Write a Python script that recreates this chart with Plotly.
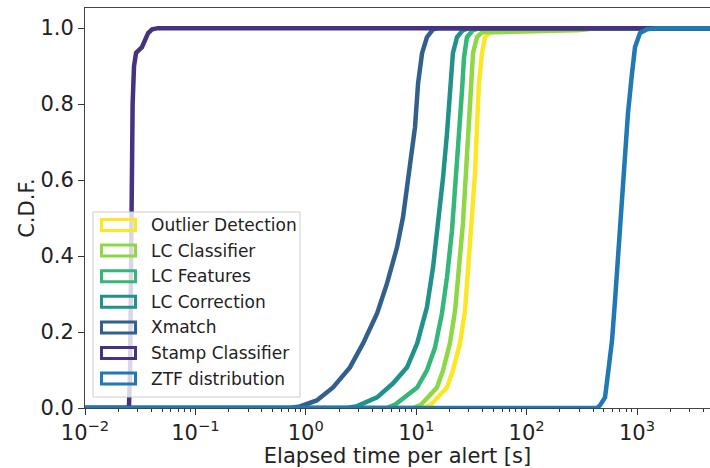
import plotly.graph_objects as go

# ---- data ----
names = ["Outlier Detection", "LC Classifier", "LC Features", "LC Correction",
         "Xmatch", "Stamp Classifier", "ZTF distribution"]
colors = ["#fde725", "#8fd744", "#35b779", "#21918c", "#31608d", "#46327e", "#2078b4"]

outlier_x = [0.01, 11.5, 13.5, 15.4, 19.0, 21.5, 24.9, 27.7, 29.4, 32.0, 34.1, 35.5, 37.0,
             39.4, 42.0, 46.6, 60, 150, 300, 450, 10000]
outlier_y = [0, 0, 0.008, 0.025, 0.054, 0.099, 0.17, 0.257, 0.362, 0.486, 0.618, 0.739, 0.855,
             0.934, 0.976, 0.989, 0.99, 0.992, 0.995, 1.0, 1.0]

lcclf_x = [0.01, 9.35, 11.0, 12.5, 15.4, 17.5, 20.2, 22.5, 24.4, 26.5, 28.2, 30.1, 31.4,
           32.7, 35.5, 39.4, 60, 150, 300, 450, 10000]
lcclf_y = [0, 0, 0.008, 0.025, 0.054, 0.099, 0.17, 0.257, 0.362, 0.486, 0.618, 0.739, 0.855,
           0.934, 0.976, 0.989, 0.99, 0.992, 0.995, 1.0, 1.0]

lcfeat_x = [0.01, 5.44, 6.5, 7.59, 10.2, 12.5, 14.8, 17.1, 19.0, 21.1, 23.0, 24.4, 26.0,
            27.1, 28.8, 32.7, 37.8, 10000]
lcfeat_y = [0, 0, 0.01, 0.025, 0.054, 0.099, 0.159, 0.249, 0.344, 0.468, 0.6, 0.723, 0.837,
            0.923, 0.976, 0.995, 1.0, 1.0]

lccorr_x = [0.01, 2.36, 2.91, 4.42, 6.17, 8.26, 10.2, 12.5, 14.2, 15.7, 17.5, 19.0, 20.2,
            21.5, 23.4, 26.5, 30.7, 10000]
lccorr_y = [0, 0, 0.005, 0.028, 0.065, 0.107, 0.17, 0.265, 0.37, 0.475, 0.607, 0.723, 0.845,
            0.934, 0.976, 0.995, 1.0, 1.0]

xmatch_x = [0.01, 0.72, 0.885, 1.256, 1.763, 2.51, 3.30, 4.42, 5.44, 6.70, 7.59, 8.79, 9.75,
            10.4, 11.3, 12.5, 14.2, 16.4, 10000]
xmatch_y = [0, 0, 0.004, 0.02, 0.054, 0.107, 0.17, 0.249, 0.328, 0.423, 0.502, 0.634, 0.739,
            0.855, 0.934, 0.976, 0.997, 1.0, 1.0]

stamp_x = [0.01, 0.0250, 0.0256, 0.0261, 0.0270, 0.0278, 0.0290, 0.0328, 0.0373, 0.0405, 0.0458, 10000]
stamp_y = [0, 0, 0.1, 0.5, 0.8, 0.9, 0.935, 0.95, 0.987, 0.997, 1.0, 1.0]

ztf_x = [0.01, 434, 462, 513, 546, 594, 632, 673, 731, 778, 828, 901, 959, 1064, 1233, 1517, 10000]
ztf_y = [0, 0, 0.007, 0.028, 0.091, 0.178, 0.283, 0.396, 0.52, 0.652, 0.776, 0.881, 0.95,
         0.987, 0.997, 1.0, 1.0]

series_x = [outlier_x, lcclf_x, lcfeat_x, lccorr_x, xmatch_x, stamp_x, ztf_x]
series_y = [outlier_y, lcclf_y, lcfeat_y, lccorr_y, xmatch_y, stamp_y, ztf_y]

major_ticks = [0.01, 0.1, 1, 10, 100, 1000]
major_text = ["10<sup>\u22122</sup>", "10<sup>\u22121</sup>", "10<sup>0</sup>",
              "10<sup>1</sup>", "10<sup>2</sup>", "10<sup>3</sup>"]
minor_ticks = [m * 10 ** e for e in range(-2, 4) for m in range(2, 10)]
y_ticks = [0.0, 0.2, 0.4, 0.6, 0.8, 1.0]

# ---- layout geometry (pixels) ----
W, H = 710, 468
L, R, T, B = 85, 710, 8, 408
FONT = "DejaVu Sans"
TXT = "#222222"


def px2x(px):
    return (px - L) / (R - L)


def py2y(py):
    return (B - py) / (B - T)


fig = go.Figure()
for n, c, xs, ys in zip(names, colors, series_x, series_y):
    fig.add_trace(go.Scatter(x=xs, y=ys, mode="lines", name=n,
                             line=dict(color=c, width=4.5), showlegend=False,
                             hoverinfo="skip"))

# ---- custom legend (matplotlib style rectangle patches) ----
shapes = [dict(type="rect", xref="paper", yref="paper", layer="above",
               x0=px2x(93), x1=px2x(300), y0=py2y(397), y1=py2y(212),
               line=dict(color="#cccccc", width=1), fillcolor="rgba(255,255,255,0.8)")]
annotations = []
for i, (n, c) in enumerate(zip(names, colors)):
    cy = 225 + i * 25.6
    shapes.append(dict(type="rect", xref="paper", yref="paper", layer="above",
                       x0=px2x(101.5), x1=px2x(135.5), y0=py2y(cy + 5.5), y1=py2y(cy - 5.5),
                       line=dict(color=c, width=3), fillcolor="rgba(0,0,0,0)"))
    annotations.append(dict(xref="paper", yref="paper", x=px2x(149), y=py2y(cy),
                            xanchor="left", yanchor="middle", showarrow=False, text=n,
                            font=dict(family=FONT, size=17, color=TXT)))

fig.update_layout(
    width=W, height=H,
    margin=dict(l=L, r=W - R, t=T, b=H - B, pad=0),
    paper_bgcolor="white", plot_bgcolor="white",
    font=dict(family=FONT, size=21, color=TXT),
    shapes=shapes, annotations=annotations,
    showlegend=False,
    xaxis=dict(type="log", range=[-2, 3.661], tickmode="array",
               tickvals=major_ticks, ticktext=major_text,
               ticks="outside", ticklen=6, tickwidth=1, tickcolor="#333",
               minor=dict(tickmode="array", tickvals=minor_ticks, ticks="outside",
                          ticklen=3, tickwidth=0.8, tickcolor="#333", showgrid=False),
               showline=True, linecolor="#444", linewidth=1, mirror=True,
               showgrid=False, zeroline=False,
               tickfont=dict(family=FONT, size=21, color=TXT),
               title=dict(text="Elapsed time per alert [s]",
                          font=dict(family=FONT, size=21, color=TXT), standoff=8)),
    yaxis=dict(range=[0, 1.053], tickmode="array", tickvals=y_ticks,
               tickformat=".1f", ticks="outside", ticklen=6, tickwidth=1, tickcolor="#333",
               showline=True, linecolor="#444", linewidth=1,
               showgrid=False, zeroline=False,
               tickfont=dict(family=FONT, size=21, color=TXT),
               title=dict(text="C.D.F.", font=dict(family=FONT, size=21, color=TXT),
                          standoff=0)),
)

fig.write_html("out.html")
